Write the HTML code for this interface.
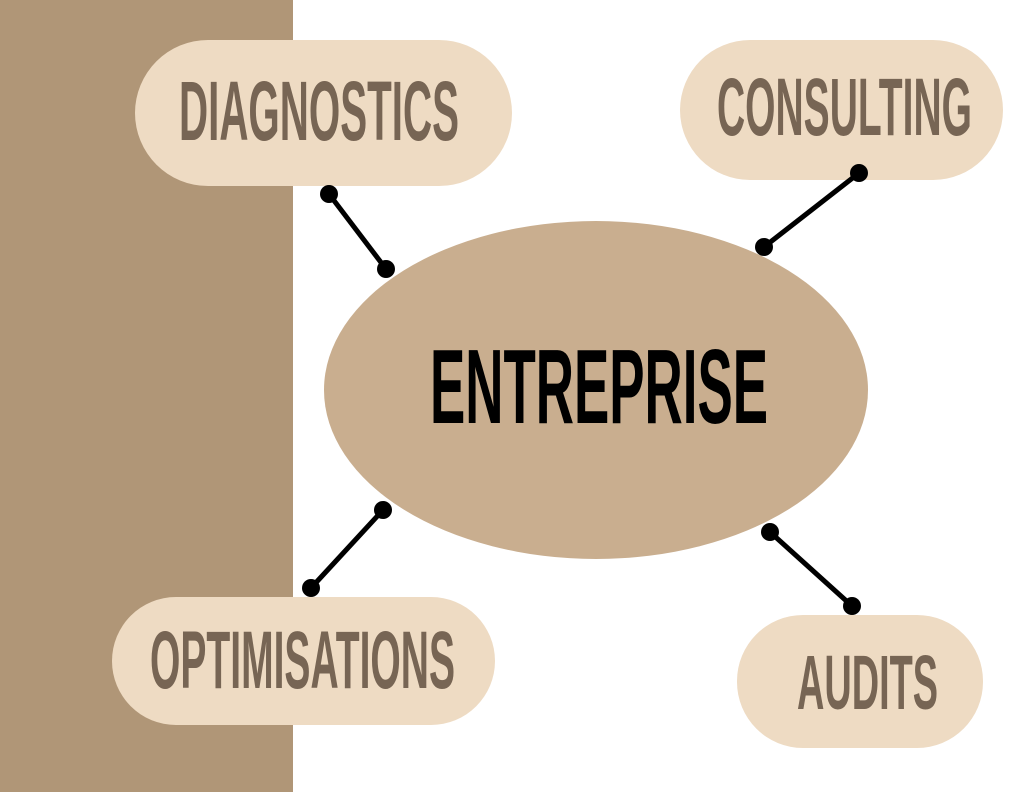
<!DOCTYPE html>
<html><head><style>html,body{margin:0;padding:0;background:#fff}svg{display:block}</style></head>
<body>
<svg width="1024" height="792" viewBox="0 0 1024 792" xmlns="http://www.w3.org/2000/svg">
<rect x="0" y="0" width="293" height="792" fill="#b09677"/>
<ellipse cx="596" cy="390" rx="272" ry="169" fill="#c9ae8f"/>
<rect x="135" y="40" width="377" height="146" rx="73" fill="#eedbc3"/>
<rect x="680" y="40" width="323" height="140" rx="70" fill="#eedbc3"/>
<rect x="112" y="597" width="383" height="128" rx="64" fill="#eedbc3"/>
<rect x="737" y="615" width="246" height="133" rx="66" fill="#eedbc3"/>
<g stroke="#000" stroke-width="5">
<line x1="329" y1="194" x2="386" y2="269"/>
<line x1="859" y1="173" x2="764" y2="247"/>
<line x1="383" y1="510" x2="311" y2="588"/>
<line x1="770" y1="532" x2="852" y2="606"/>
</g>
<g fill="#000">
<circle cx="329" cy="194" r="9"/><circle cx="386" cy="269" r="9"/>
<circle cx="859" cy="173" r="9"/><circle cx="764" cy="247" r="9"/>
<circle cx="383" cy="510" r="9"/><circle cx="311" cy="588" r="9"/>
<circle cx="770" cy="532" r="9"/><circle cx="852" cy="606" r="9"/>
</g>
<g font-family="'Liberation Sans Narrow','Liberation Sans',sans-serif" font-weight="bold" fill="#776554">
<text x="179" y="140" font-size="84" textLength="280" lengthAdjust="spacingAndGlyphs">DIAGNOSTICS</text>
<text x="717" y="135" font-size="82" textLength="255" lengthAdjust="spacingAndGlyphs">CONSULTING</text>
<text x="150" y="688" font-size="82" textLength="305" lengthAdjust="spacingAndGlyphs">OPTIMISATIONS</text>
<text x="797" y="709" font-size="77" textLength="141" lengthAdjust="spacingAndGlyphs">AUDITS</text>
</g>
<text x="430" y="423" font-family="'Liberation Sans Narrow','Liberation Sans',sans-serif" font-weight="bold" font-size="106" fill="#000" textLength="338" lengthAdjust="spacingAndGlyphs">ENTREPRISE</text>
</svg>
</body></html>
